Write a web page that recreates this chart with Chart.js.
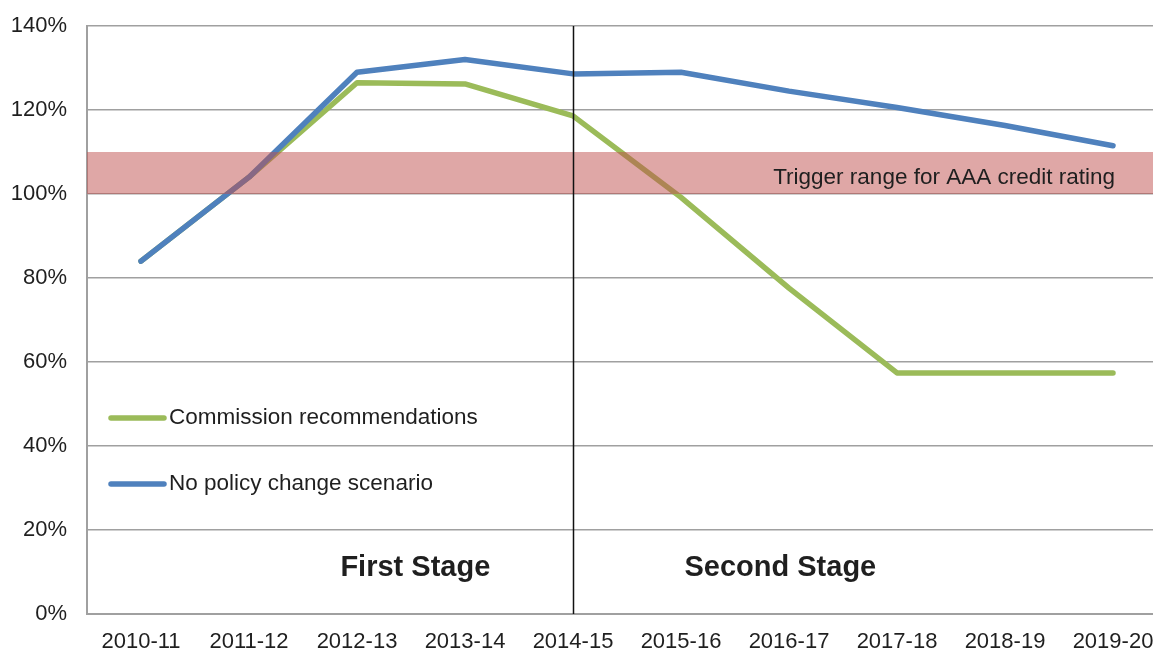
<!DOCTYPE html>
<html>
<head>
<meta charset="utf-8">
<title>Net debt scenarios</title>
<script src="https://cdn.jsdelivr.net/npm/chart.js@4.4.1/dist/chart.umd.min.js"></script>
<style>
    html, body { margin: 0; padding: 0; background: #fff; overflow: hidden; }
    #wrap { position: absolute; left: 0; top: 0; }
</style>
</head>
<body>
<div id="wrap"><canvas id="chart" width="1167" height="649"></canvas></div>
<script>
// Años (ejes) y series
const years = ['2010-11', '2011-12', '2012-13', '2013-14', '2014-15',
               '2015-16', '2016-17', '2017-18', '2018-19', '2019-20'];
const commission = [84, 104, 126.5, 126.2, 118.6, 99.2, 77.6, 57.4, 57.4, 57.4];
const noPolicy   = [84, 104, 129, 132, 128.6, 129, 124.5, 120.6, 116.3, 111.5];
const yTicks = [0, 20, 40, 60, 80, 100, 120, 140];

// Banda de referencia y anotaciones
const triggerBand = [100, 110];
const triggerLabel = 'Trigger range for AAA credit rating';
const stageSplit = '2014-15';
const stageLabels = [
    { text: 'First Stage', at: 2.54, value: 11 },
    { text: 'Second Stage', at: 5.92, value: 11 }
];
// orden de la leyenda (de arriba abajo)
const legendOrder = ['Commission recommendations', 'No policy change scenario'];

const FONT = 'Arial, "Liberation Sans", sans-serif';
const TEXT = '#1f1f1f';
const GREEN = '#9BBB59';
const BLUE = '#4F81BD';

// Plugin: banda, línea vertical, textos y leyenda interna
const overlays = {
    id: 'overlays',
    afterDatasetsDraw(chart) {
        const { ctx, chartArea: a, scales: { x, y } } = chart;
        ctx.save();

        // banda semitransparente encima de las líneas
        const yTop = y.getPixelForValue(triggerBand[1]);
        const yBot = y.getPixelForValue(triggerBand[0]);
        ctx.fillStyle = 'rgba(192, 80, 77, 0.5)';
        ctx.fillRect(a.left, yTop, a.right - a.left, yBot - yTop);

        ctx.font = '22.5px ' + FONT;
        ctx.fillStyle = TEXT;
        ctx.textAlign = 'right';
        ctx.textBaseline = 'middle';
        ctx.fillText(triggerLabel, x.getPixelForValue(years.length - 1) + 2,
                     (yTop + yBot) / 2 + 5);

        // separador de etapas
        const sx = Math.round(x.getPixelForValue(years.indexOf(stageSplit))) + 0.5;
        ctx.strokeStyle = '#111';
        ctx.lineWidth = 1.5;
        ctx.beginPath();
        ctx.moveTo(sx, a.top);
        ctx.lineTo(sx, a.bottom);
        ctx.stroke();

        ctx.font = 'bold 29px ' + FONT;
        ctx.textAlign = 'center';
        stageLabels.forEach(s => {
            ctx.fillText(s.text, x.getPixelForValue(s.at), y.getPixelForValue(s.value));
        });

        // leyenda
        ctx.font = '22.5px ' + FONT;
        ctx.textAlign = 'left';
        ctx.lineCap = 'round';
        ctx.lineWidth = 5.5;
        legendOrder.forEach((name, i) => {
            const ds = chart.data.datasets.find(d => d.label === name);
            const ly = a.top + 392 + i * 66;
            ctx.strokeStyle = ds.borderColor;
            ctx.beginPath();
            ctx.moveTo(a.left + 24, ly);
            ctx.lineTo(a.left + 77, ly);
            ctx.stroke();
            ctx.fillText(ds.label, a.left + 82, ly);
        });

        ctx.restore();
    }
};

new Chart(document.getElementById('chart'), {
    type: 'line',
    data: {
        labels: years,
        datasets: [
            {
                label: 'No policy change scenario',
                data: noPolicy,
                borderColor: BLUE,
                borderWidth: 5.5,
                borderCapStyle: 'round',
                borderJoinStyle: 'round',
                pointRadius: 0,
                tension: 0
            },
            {
                label: 'Commission recommendations',
                data: commission,
                borderColor: GREEN,
                borderWidth: 5.5,
                borderCapStyle: 'round',
                borderJoinStyle: 'round',
                pointRadius: 0,
                tension: 0
            }
        ]
    },
    options: {
        responsive: false,
        animation: false,
        layout: { autoPadding: false, padding: { top: 26, left: 0, right: 0, bottom: 0 } },
        plugins: {
            legend: { display: false },
            tooltip: { enabled: false }
        },
        scales: {
            x: {
                offset: true,
                grid: { display: false, drawTicks: false },
                border: { display: true, color: '#a0a0a0', width: 2 },
                ticks: {
                    color: TEXT,
                    font: { family: FONT, size: 22 },
                    padding: 15,
                    maxRotation: 0,
                    autoSkip: false
                },
                afterFit: s => { s.height = 35; s.paddingLeft = 0; s.paddingRight = 0; }
            },
            y: {
                min: 0,
                max: 140,
                afterBuildTicks: s => { s.ticks = yTicks.map(v => ({ value: v })); },
                grid: { color: '#a0a0a0', lineWidth: 1.5, drawTicks: false },
                border: { display: true, color: '#a0a0a0', width: 2 },
                ticks: {
                    color: TEXT,
                    font: { family: FONT, size: 22 },
                    padding: 20,
                    callback: v => v + '%'
                },
                afterFit: s => { s.width = 87; s.paddingTop = 0; s.paddingBottom = 0; }
            }
        }
    },
    plugins: [overlays]
});
</script>
</body>
</html>
